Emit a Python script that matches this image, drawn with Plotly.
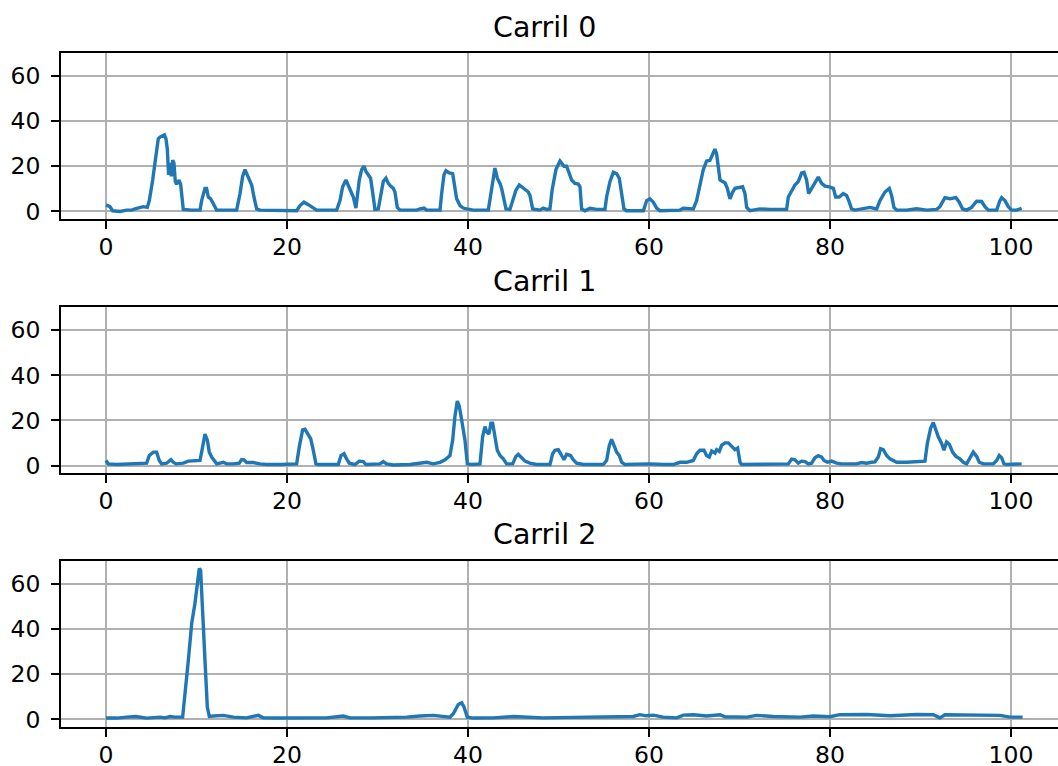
import plotly.graph_objects as go

titles = ["Carril 0", "Carril 1", "Carril 2"]

x0 = [0, 0.44, 0.74, 1.55, 2.28, 2.84, 3.2, 3.76, 4.13, 4.57, 4.79, 5.16, 5.52, 5.78, 5.97, 6.26, 6.45, 6.63, 6.78, 6.92,
      7.07, 7.22, 7.37, 7.51, 7.66, 7.81, 8.07, 8.25, 8.36, 8.54, 9.47, 10.39, 10.57, 10.94, 11.12, 11.31, 11.57, 11.79,
      12.04, 12.23, 13.33, 14.44, 14.81, 15.1, 15.36, 15.62, 15.84, 16.1, 16.35, 16.65, 17.02, 18.86, 21.07, 21.44,
      21.88, 22.36, 22.84, 23.28, 24.38, 25.49, 25.86, 26.15, 26.52, 26.78, 27.03, 27.33, 27.62, 27.99, 28.25, 28.51,
      28.73, 28.99, 29.24, 29.54, 29.72, 30.09, 30.35, 30.64, 30.94, 31.2, 31.45, 31.75, 31.93, 32.19, 32.49, 33.59,
      34.33, 34.7, 35.14, 35.43, 36.91, 37.09, 37.35, 37.57, 37.94, 38.31, 38.56, 38.75, 39.12, 39.48, 39.85, 40.59,
      42.25, 42.62, 42.98, 43.24, 43.54, 43.72, 43.98, 44.2, 44.64, 44.94, 45.3, 45.67, 45.93, 46.3, 46.67, 46.85,
      47.15, 47.96, 48.32, 48.69, 49.06, 49.3, 49.72, 50.17, 50.35, 50.61, 50.9, 51.2, 51.46, 51.82, 52.19, 52.38,
      52.56, 52.93, 53.48, 54.22, 55.14, 55.32, 55.69, 56.06, 56.43, 56.72, 56.98, 57.24, 57.53, 58.45, 59.38, 59.75,
      60.11, 60.48, 60.85, 61.22, 62.33, 63.43, 63.8, 64.9, 65.27, 65.64, 66.0, 66.37, 66.74, 67.04, 67.29, 67.48,
      67.66, 67.85, 68.14, 68.4, 68.66, 68.95, 69.25, 69.5, 69.98, 70.35, 70.61, 70.8, 71.16, 72.27, 73.38, 74.48,
      75.21, 75.4, 75.77, 76.13, 76.5, 76.87, 77.13, 77.42, 77.64, 77.97, 78.34, 78.71, 79.08, 79.45, 79.93, 80.38,
      80.63, 81.03, 81.47, 81.84, 82.14, 82.39, 82.76, 83.5, 84.42, 85.16, 85.53, 86.08, 86.56, 86.81, 87.07, 87.37,
      88.47, 89.58, 90.68, 91.79, 92.15, 92.71, 93.26, 93.92, 94.29, 94.66, 95.1, 95.65, 96.21, 96.76, 97.13, 97.5,
      98.42, 98.78, 98.97, 99.34, 99.71, 100.07, 100.63, 101.18]
y0 = [2.9, 2.1, 0.3, 0, 0.6, 0.6, 1.1, 1.8, 2.1, 1.8, 4.8, 13.9, 25.3, 32.1, 32.9, 33.3, 33.9, 32.1, 27.6, 16.2,
      21.5, 15.5, 22.7, 21.5, 13.2, 12.1, 13.9, 12.1, 6.4, 0.9, 0.6, 0.6, 4.8, 10.2, 10.2, 6.4, 5.6, 4.1,
      1.8, 0.6, 0.6, 0.6, 7.9, 15.5, 18.5, 15.8, 13.9, 11.7, 6.4, 1.1, 0.6, 0.3, 0.3, 2.6,
      4.1, 3.0, 1.5, 0.6, 0.6, 0.6, 4.8, 10.9, 13.9, 11.7, 9.4, 6.4, 1.5, 13.9, 18.5, 20.0,
      17.7, 16.2, 14.7, 6.4, 0.9, 1.1, 6.4, 13.2, 14.7, 12.4, 11.2, 10.2, 8.6, 1.8, 0.6, 0.6,
      0.6, 1.1, 1.5, 0.6, 0.6, 7.9, 16.2, 18.0, 17.0, 16.7, 10.9, 5.6, 2.6, 1.5, 1.1, 0.6,
      0.6, 9.4, 19.2, 14.7, 12.4, 10.2, 4.8, 1.1, 0.9, 4.8, 9.4, 11.7, 10.9, 9.4, 8.6, 7.1,
      1.1, 0.6, 1.5, 0.9, 1.1, 9.5, 18.5, 22.3, 21.2, 20.0, 20.0, 16.2, 13.9, 12.4, 12.1, 10.9,
      1.1, 0.3, 1.4, 0.9, 0.9, 6.4, 13.2, 17.3, 16.7, 14.7, 7.9, 1.1, 0.3, 0.3, 0.3, 4.8,
      5.6, 4.1, 1.5, 0.3, 0.3, 0.6, 1.4, 1.1, 4.8, 12.4, 18.5, 22.3, 22.6, 25.3, 27.6, 25.3,
      20.0, 13.9, 13.2, 12.7, 10.2, 5.6, 8.6, 10.2, 10.6, 10.9, 7.9, 1.8, 0.3, 1.1, 0.9, 0.9,
      0.9, 6.4, 9.4, 11.7, 13.2, 17.0, 17.3, 13.9, 7.9, 10.2, 12.4, 15.2, 12.4, 11.2, 10.9, 10.2,
      6.4, 6.4, 7.9, 7.1, 4.1, 1.1, 0.6, 1.1, 1.8, 1.1, 4.8, 8.6, 10.2, 7.1, 1.8, 0.6,
      0.6, 1.2, 0.6, 0.9, 2.1, 6.1, 5.6, 6.1, 4.1, 1.1, 0.6, 1.8, 4.5, 4.4, 2.1, 0.6,
      0.6, 4.8, 6.1, 4.8, 2.1, 0.6, 0.6, 1.4]

x1 = [0, 0.26, 1.18, 2.28, 3.39, 4.49, 4.79, 5.23, 5.6, 5.89, 6.15, 6.7, 7.18, 7.44, 7.73, 8.55, 9.1, 10.02, 10.39,
      10.68, 10.94, 11.2, 11.42, 11.68, 11.93, 12.23, 12.97, 13.33, 14.07, 14.73, 14.99, 15.25, 15.54, 16.28, 17.02,
      17.75, 19.23, 21.07, 21.36, 21.73, 21.99, 22.25, 22.62, 22.91, 23.2, 23.46, 25.67, 25.97, 26.3, 26.59, 26.89,
      27.51, 27.99, 28.43, 28.73, 30.28, 30.64, 31.01, 31.75, 33.59, 34.7, 35.43, 36.17, 36.91, 37.46, 38.01, 38.31,
      38.56, 38.82, 39.04, 39.3, 39.67, 39.93, 40.41, 41.33, 41.62, 41.88, 42.06, 42.32, 42.54, 42.73, 42.98, 43.24,
      43.54, 43.9, 44.27, 44.94, 45.3, 45.56, 45.93, 46.3, 46.85, 47.59, 49.06, 49.36, 49.61, 49.98, 50.35, 50.61,
      50.9, 51.34, 51.64, 52.0, 52.75, 53.85, 54.95, 55.32, 55.62, 55.87, 56.13, 56.43, 56.72, 56.98, 57.35, 59.0,
      60.11, 61.58, 62.69, 63.43, 64.16, 64.9, 65.27, 65.64, 66.08, 66.37, 66.67, 66.93, 67.29, 67.48, 67.77, 68.03,
      68.4, 68.77, 69.14, 69.5, 69.8, 70.06, 70.24, 71.9, 73.74, 75.4, 75.77, 76.13, 76.5, 76.87, 77.24, 77.61,
      77.97, 78.34, 78.71, 79.08, 79.34, 79.71, 80.18, 80.74, 81.29, 82.95, 83.5, 84.05, 84.6, 84.97, 85.34, 85.6,
      85.89, 86.26, 86.63, 86.99, 87.37, 88.47, 89.94, 90.5, 90.76, 91.12, 91.42, 91.68, 91.97, 92.34, 92.6, 92.89,
      93.19, 93.55, 93.92, 94.36, 94.73, 95.1, 95.47, 95.84, 96.21, 96.5, 96.94, 98.05, 98.42, 98.71, 98.97, 99.23,
      99.52, 101.18]
y1 = [2.3, 0.8, 0.5, 0.8, 0.8, 1.1, 4.5, 6.0, 6.0, 2.3, 0.8, 1.1, 2.7, 1.5, 0.8, 1.1, 2.0, 2.0, 2.3,
      8.3, 14.0, 11.3, 6.0, 3.8, 2.3, 0.8, 1.5, 0.8, 0.8, 1.1, 2.7, 2.6, 1.4, 1.4, 0.8,
      0.5, 0.5, 0.8, 8.3, 15.8, 16.1, 14.3, 12.0, 6.8, 0.8, 0.5, 0.5, 4.5, 5.3, 3.0, 1.1,
      0.5, 2.0, 1.8, 0.5, 0.8, 1.8, 0.8, 0.3, 0.5, 1.1, 1.5, 0.8, 1.5, 2.6, 4.5, 11.3,
      21.8, 28.6, 26.3, 20.3, 11.3, 0.8, 0.5, 0.8, 12.8, 17.3, 15.0, 14.0, 18.8, 18.8, 12.8, 6.8,
      4.5, 3.0, 0.8, 0.8, 4.1, 5.0, 3.5, 2.0, 1.1, 0.5, 0.5, 5.3, 6.8, 7.1, 4.5, 2.6,
      5.0, 4.5, 2.6, 1.1, 0.5, 0.5, 0.5, 2.3, 9.0, 11.6, 9.0, 6.0, 4.5, 1.5, 0.5, 0.8,
      0.8, 0.5, 0.5, 1.5, 1.5, 2.3, 5.3, 6.8, 6.8, 4.5, 3.8, 6.5, 5.6, 7.1, 6.3, 9.0,
      10.1, 10.1, 8.6, 7.1, 7.8, 1.5, 0.5, 0.5, 0.5, 0.8, 2.9, 2.6, 1.1, 2.0, 1.8, 0.8,
      1.1, 3.5, 4.4, 3.8, 2.3, 1.5, 2.0, 1.1, 0.8, 0.8, 1.4, 1.1, 1.5, 1.7, 3.8, 7.5,
      7.1, 4.5, 3.0, 2.3, 1.5, 1.5, 1.8, 2.0, 9.8, 16.5, 19.1, 16.1, 12.8, 9.8, 6.8, 10.5,
      9.5, 6.0, 4.1, 3.0, 1.5, 0.8, 3.5, 6.0, 4.1, 1.5, 0.8, 0.8, 2.3, 4.5, 3.5, 0.8,
      0.5, 0.8]

x2 = [0, 1.18, 2.28, 3.31, 4.49, 5.97, 6.52, 7.07, 7.62, 8.47, 9.1, 9.47, 9.83, 10.09, 10.31, 10.46, 10.68, 10.94,
      11.2, 11.42, 11.86, 12.97, 14.07, 15.54, 16.83, 17.38, 18.86, 20.7, 22.54, 24.38, 26.22, 26.96, 29.35, 31.75,
      33.22, 34.7, 36.17, 38.01, 38.38, 38.93, 39.3, 39.56, 39.93, 40.59, 42.8, 45.01, 46.48, 48.32, 51.64, 55.32,
      58.27, 59.0, 59.71, 60.48, 61.58, 63.06, 63.8, 64.9, 66.37, 67.85, 68.4, 70.8, 71.9, 73.74, 76.69, 78.16,
      79.99, 81.1, 84.05, 86.63, 89.58, 91.42, 92.15, 92.71, 95.84, 98.79, 99.89, 101.29]
y2 = [0.6, 0.6, 1.0, 1.3, 0.6, 1.0, 0.7, 1.3, 1.0, 1.0, 26.1, 42.4, 51.3, 58.6, 66.8, 66.0, 45.3, 26.1,
      5.5, 1.3, 1.5, 1.8, 1.0, 0.7, 1.8, 0.7, 0.6, 0.6, 0.7, 0.7, 1.5, 0.7, 0.7, 0.7,
      1.0, 1.5, 1.8, 1.0, 2.5, 6.6, 7.4, 5.5, 1.0, 0.6, 0.7, 1.3, 0.9, 0.7, 0.9, 1.2,
      1.3, 2.1, 1.6, 1.9, 1.0, 0.7, 1.9, 2.1, 1.5, 2.1, 1.2, 1.0, 1.8, 1.3, 1.0, 1.5,
      1.2, 2.1, 2.2, 1.6, 2.2, 2.1, 0.7, 2.1, 2.1, 1.8, 1.0, 1.0]

x_ticks = [0, 20, 40, 60, 80, 100]
y_ticks = [0, 20, 40, 60]

series = [(x0, y0), (x1, y1), (x2, y2)]

W, H = 1058, 766
ML, MR, MT, MB = 61, 0, 53, 39
domains = [[0.7537, 1.0], [0.3765, 0.6227], [0.0, 0.2463]]

FONT = "DejaVu Sans"
fig = go.Figure()
for i, (xs, ys) in enumerate(series):
    n = "" if i == 0 else str(i + 1)
    fig.add_trace(go.Scatter(x=xs, y=ys, mode="lines", xaxis="x" + n, yaxis="y" + n,
                             line=dict(color="#1f77b4", width=3.4), showlegend=False,
                             hoverinfo="x+y"))
    axcommon = dict(showgrid=True, gridcolor="#b0b0b0", gridwidth=1.6, zeroline=False,
                    showline=True, linecolor="black", linewidth=1.8, automargin=False,
                    ticks="outside", ticklen=8, tickwidth=1.8, tickcolor="black",
                    tickfont=dict(family=FONT, size=23.5, color="black"))
    fig.layout["xaxis" + n] = dict(axcommon, domain=[0, 1], anchor="y" + n,
                                   range=[-4.97, 105.2], tickvals=x_ticks, mirror=True,
                                   ticklabelstandoff=-2)
    fig.layout["yaxis" + n] = dict(axcommon, domain=domains[i], anchor="x" + n,
                                   range=[-3.35, 70.1], tickvals=y_ticks, mirror=False,
                                   ticklabelstandoff=6)
    fig.add_annotation(text=titles[i], xref="paper", yref="paper",
                       x=(544.5 - ML) / (W - ML - MR), y=domains[i][1],
                       xanchor="center", yanchor="middle", yshift=26, showarrow=False,
                       font=dict(family=FONT, size=28.5, color="black"))

fig.update_layout(width=W, height=H, margin=dict(l=ML, r=MR, t=MT, b=MB, autoexpand=False),
                  paper_bgcolor="white", plot_bgcolor="white",
                  font=dict(family=FONT, color="black"))

fig.write_html("out.html", config={"displayModeBar": False},
               post_script="document.body.style.margin='0';document.body.style.overflow='hidden';")
